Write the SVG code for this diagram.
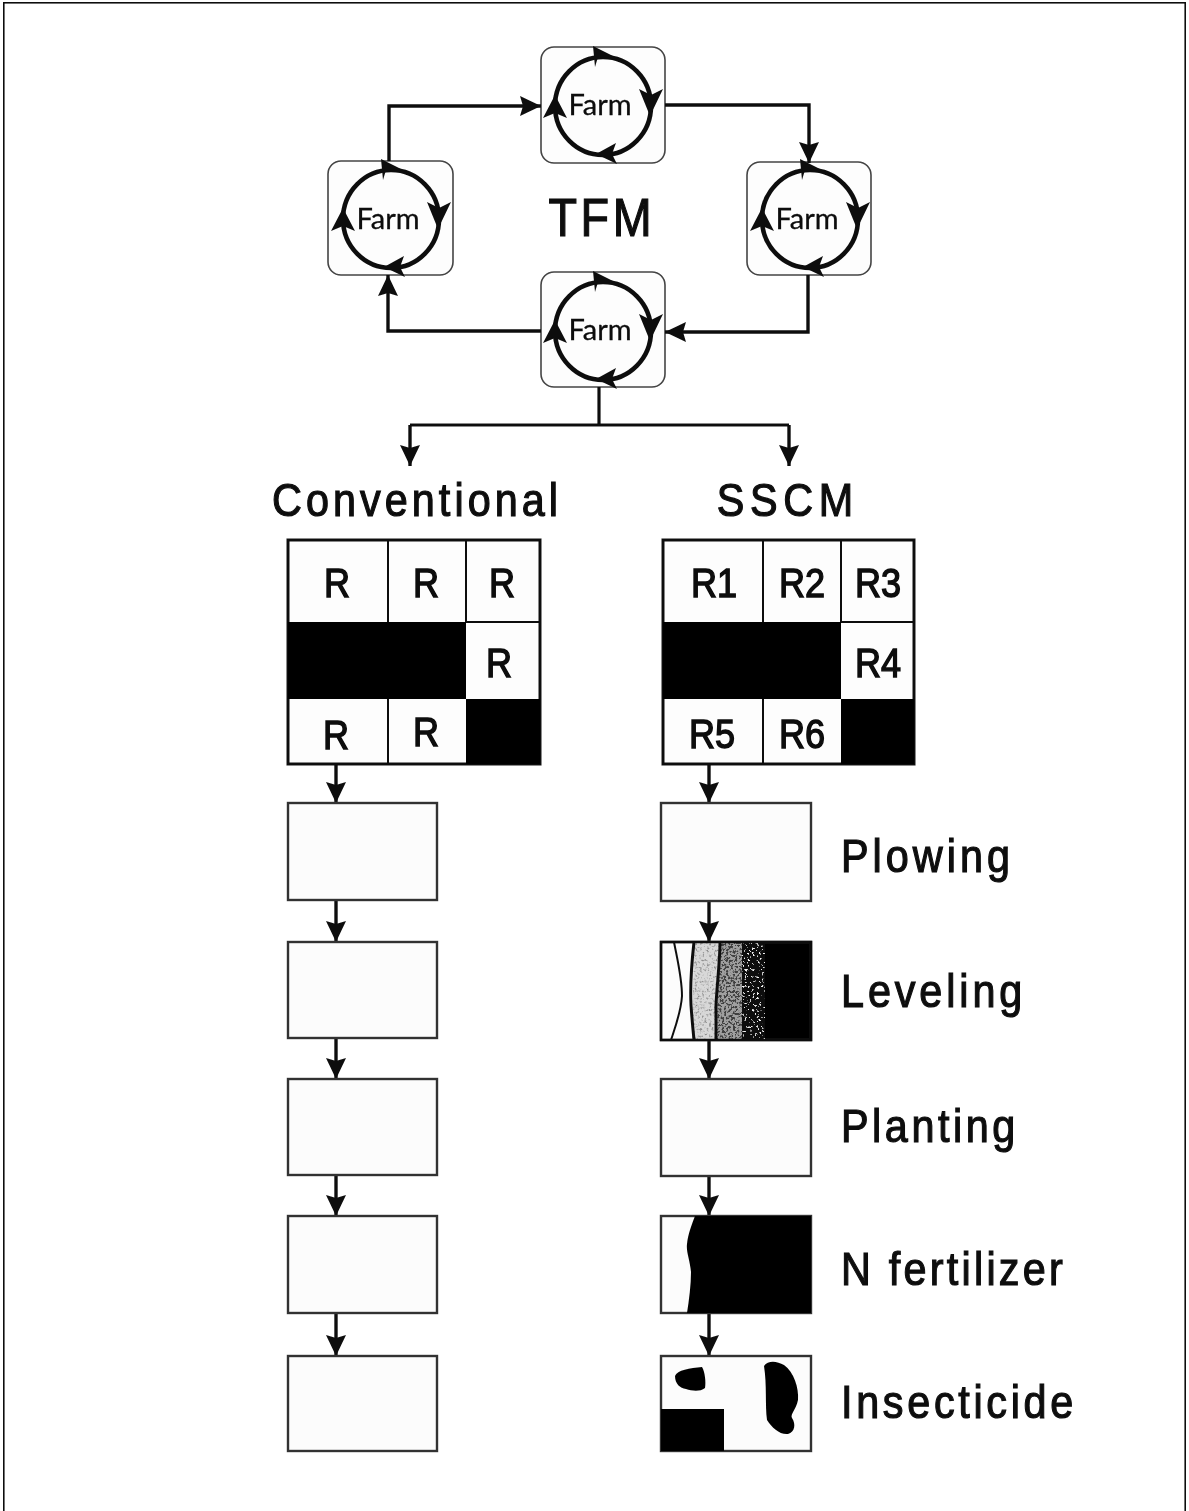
<svg xmlns="http://www.w3.org/2000/svg" width="1189" height="1511" viewBox="0 0 1189 1511">
<style>
text{font-family:"Liberation Sans",Arial,sans-serif;fill:#0a0a0a;stroke:#0a0a0a;stroke-width:1.2px}
.mid{text-anchor:middle}
.lbl{font-size:47px;text-anchor:start}
.r{font-size:41px;text-anchor:middle;stroke-width:1.4px}
.farm{font-family:"Lato","Liberation Sans",sans-serif;font-size:29px;text-anchor:middle;stroke-width:.3px}
.fbox{fill:#fdfdfd;stroke:#444;stroke-width:1.6}
.cell{fill:#fdfdfd;stroke:#111;stroke-width:3}
.blk{fill:#050505}
.proc{fill:#fcfcfc;stroke:#333;stroke-width:2.4}
.ln{fill:none;stroke:#111;stroke-width:2}
.th{fill:none;stroke:#111;stroke-width:3}
.conn{fill:none;stroke:#111;stroke-width:3.4;marker-end:url(#ah)}
.plain{fill:none;stroke:#111;stroke-width:3.2}
.cyc{fill:none;stroke:#111;stroke-width:4.6}
</style>
<defs>
<marker id="ah" markerUnits="userSpaceOnUse" markerWidth="24" markerHeight="22" refX="21" refY="10" orient="auto"><path d="M0 0L21 10L0 20L3 10Z" fill="#111"/></marker>
<g id="cycle">
<ellipse cx="0" cy="0" rx="48" ry="49" class="cyc"/>
<path d="M10-50L-10-60L-8-39L-5-49Z" fill="#111"/>
<path d="M47 10L36-17L48-11L60-17Z" fill="#111"/>
<path d="M-7 48L13 37L9 48L14 58Z" fill="#111"/>
<path d="M-48-11L-60 12L-48 7L-36 12Z" fill="#111"/>
</g>
<filter id="soft" x="0" y="0" width="100%" height="100%"><feGaussianBlur stdDeviation=".55"/></filter>
<filter id="sp1" x="0" y="0" width="100%" height="100%"><feTurbulence type="fractalNoise" baseFrequency=".42" numOctaves="2" seed="3"/><feColorMatrix values="0 0 0 0 .25 0 0 0 0 .25 0 0 0 0 .25 3.4 0 0 0 -1.7"/><feComposite in2="SourceGraphic" operator="in"/><feMerge><feMergeNode in="SourceGraphic"/><feMergeNode/></feMerge></filter>
<filter id="sp2" x="0" y="0" width="100%" height="100%"><feTurbulence type="fractalNoise" baseFrequency=".42" numOctaves="2" seed="8"/><feColorMatrix values="0 0 0 0 .9 0 0 0 0 .9 0 0 0 0 .9 9 0 0 0 -5.6"/><feComposite in2="SourceGraphic" operator="in"/><feMerge><feMergeNode in="SourceGraphic"/><feMergeNode/></feMerge></filter>
<filter id="sp3" x="0" y="0" width="100%" height="100%"><feTurbulence type="fractalNoise" baseFrequency=".45" numOctaves="2" seed="5"/><feColorMatrix values="0 0 0 0 .05 0 0 0 0 .05 0 0 0 0 .05 8 0 0 0 -3.8"/><feComposite in2="SourceGraphic" operator="in"/><feMerge><feMergeNode in="SourceGraphic"/><feMergeNode/></feMerge></filter>
</defs>
<rect width="1189" height="1511" fill="#fff"/>
<g filter="url(#soft)">
<rect x="3" y="2" width="1183" height="1530" fill="none" stroke="#111" stroke-width="3.2"/>

<g id="farm-top"><rect class="fbox" x="541" y="47" width="124" height="116" rx="13"/><use href="#cycle" x="603" y="106"/><text class="farm" x="600" y="115">Farm</text></g>
<g id="farm-left"><rect class="fbox" x="328" y="161" width="125" height="114" rx="13"/><use href="#cycle" x="391" y="219"/><text class="farm" x="388" y="229">Farm</text></g>
<g id="farm-right"><rect class="fbox" x="747" y="162" width="124" height="113" rx="13"/><use href="#cycle" x="810" y="219"/><text class="farm" x="807" y="229">Farm</text></g>
<g id="farm-bottom"><rect class="fbox" x="541" y="272" width="124" height="115" rx="13"/><use href="#cycle" x="603" y="331"/><text class="farm" x="600" y="340">Farm</text></g>
<g id="label-tfm"><text class="mid" transform="translate(600 236) scale(.88 1)" font-size="53" textLength="117" lengthAdjust="spacing">TFM</text></g>

<g id="connectors">
<path class="conn" d="M389 161V106H541"/>
<path class="conn" d="M665 105H809V163"/>
<path class="conn" d="M808 275V332H665"/>
<path class="conn" d="M541 331H388V275"/>
<path class="plain" d="M599 387V425M410 425H789"/>
<path class="conn" d="M410 425V466"/>
<path class="conn" d="M789 425V466"/>
<path class="conn" d="M336 764V803"/>
<path class="conn" d="M336 900V942"/>
<path class="conn" d="M336 1038V1079"/>
<path class="conn" d="M336 1175V1216"/>
<path class="conn" d="M336 1313V1356"/>
<path class="conn" d="M709 764V803"/>
<path class="conn" d="M709 901V942"/>
<path class="conn" d="M709 1040V1079"/>
<path class="conn" d="M709 1176V1216"/>
<path class="conn" d="M709 1313V1356"/>
</g>

<g id="label-conventional"><text class="mid" transform="translate(415 516) scale(.88 1)" font-size="47" textLength="325" lengthAdjust="spacing">Conventional</text></g>
<g id="label-sscm"><text class="mid" transform="translate(785 516) scale(.88 1)" font-size="47" textLength="155" lengthAdjust="spacing">SSCM</text></g>

<g id="grid-conventional">
<rect class="cell" x="288" y="540" width="252" height="224"/>
<path class="ln" d="M388 540V622M466 540V622M466 622H540M388 699V764"/>
<rect class="blk" x="288" y="622" width="178" height="77"/>
<rect class="blk" x="466" y="699" width="74" height="65"/>
<text class="r" transform="translate(337 597) scale(.88 1)">R</text><text class="r" transform="translate(426 597) scale(.88 1)">R</text><text class="r" transform="translate(502 597) scale(.88 1)">R</text>
<text class="r" transform="translate(499 677) scale(.88 1)">R</text>
<text class="r" transform="translate(336 749) scale(.88 1)">R</text><text class="r" transform="translate(426 746) scale(.88 1)">R</text>
</g>
<g id="grid-sscm">
<rect class="cell" x="663" y="540" width="251" height="224"/>
<path class="ln" d="M763 540V622M841 540V622M841 622H914M763 699V764"/>
<rect class="blk" x="663" y="622" width="178" height="77"/>
<rect class="blk" x="841" y="699" width="73" height="65"/>
<text class="r" transform="translate(714 597) scale(.88 1)">R1</text><text class="r" transform="translate(802 597) scale(.88 1)">R2</text><text class="r" transform="translate(878 597) scale(.88 1)">R3</text>
<text class="r" transform="translate(878 677) scale(.88 1)">R4</text>
<text class="r" transform="translate(712 748) scale(.88 1)">R5</text><text class="r" transform="translate(802 748) scale(.88 1)">R6</text>
</g>

<g id="conv-1"><rect class="proc" x="288" y="803" width="149" height="97"/></g>
<g id="conv-2"><rect class="proc" x="288" y="942" width="149" height="96"/></g>
<g id="conv-3"><rect class="proc" x="288" y="1079" width="149" height="96"/></g>
<g id="conv-4"><rect class="proc" x="288" y="1216" width="149" height="97"/></g>
<g id="conv-5"><rect class="proc" x="288" y="1356" width="149" height="95"/></g>

<g id="sscm-plowing"><rect class="proc" x="661" y="803" width="150" height="98"/><text class="lbl" transform="translate(841 872) scale(.88 1)" textLength="192" lengthAdjust="spacing">Plowing</text></g>
<g id="sscm-leveling">
<rect class="proc" x="661" y="942" width="150" height="98"/>
<path d="M694 942H720L718 985L716 1040H692Z" fill="#d8d8d8" filter="url(#sp1)"/>
<path d="M720 942H743V1040H716L718 985Z" fill="#a0a0a0" filter="url(#sp3)"/>
<path d="M742 942H768V1040H742Z" fill="#111" filter="url(#sp2)"/>
<rect x="765" y="942" width="46" height="98" fill="#050505"/>
<path d="M674 942C677 958 682 978 682 996C681 1012 675 1028 671 1040" class="ln"/>
<path d="M694 942C692 960 690 985 691 1005C692 1020 693 1030 694 1040" class="th"/>
<path d="M720 942C720 960 717 985 716 1005C716 1020 716 1030 716 1040" class="th"/>
<rect x="661" y="942" width="150" height="98" fill="none" stroke="#111" stroke-width="2.5"/>
<text class="lbl" transform="translate(841 1007) scale(.88 1)" textLength="206" lengthAdjust="spacing">Leveling</text></g>
<g id="sscm-planting"><rect class="proc" x="661" y="1079" width="150" height="97"/><text class="lbl" transform="translate(841 1142) scale(.88 1)" textLength="198" lengthAdjust="spacing">Planting</text></g>
<g id="sscm-nfert">
<rect class="proc" x="661" y="1216" width="150" height="97"/>
<path d="M695 1216H811V1313H687C689 1300 691 1285 691 1272C690 1260 686 1252 687 1244C688 1234 692 1224 695 1216Z" fill="#050505"/>
<text class="lbl" transform="translate(841 1285) scale(.88 1)" textLength="252" lengthAdjust="spacing">N fertilizer</text></g>
<g id="sscm-insecticide">
<rect class="proc" x="661" y="1356" width="150" height="95"/>
<path d="M675 1376C677 1370 690 1368 702 1367C705 1372 706 1382 705 1388C700 1392 692 1391 686 1389C680 1388 675 1384 675 1376Z" fill="#050505"/>
<path d="M764 1366C768 1360 777 1361 784 1365C794 1372 799 1388 798 1400C796 1410 790 1414 792 1418C796 1424 795 1432 788 1434C780 1435 772 1428 767 1420C765 1405 767 1385 764 1366Z" fill="#050505"/>
<rect x="661" y="1409" width="63" height="42" fill="#050505"/>
<text class="lbl" transform="translate(841 1418) scale(.88 1)" textLength="264" lengthAdjust="spacing">Insecticide</text></g>
</g>
</svg>
